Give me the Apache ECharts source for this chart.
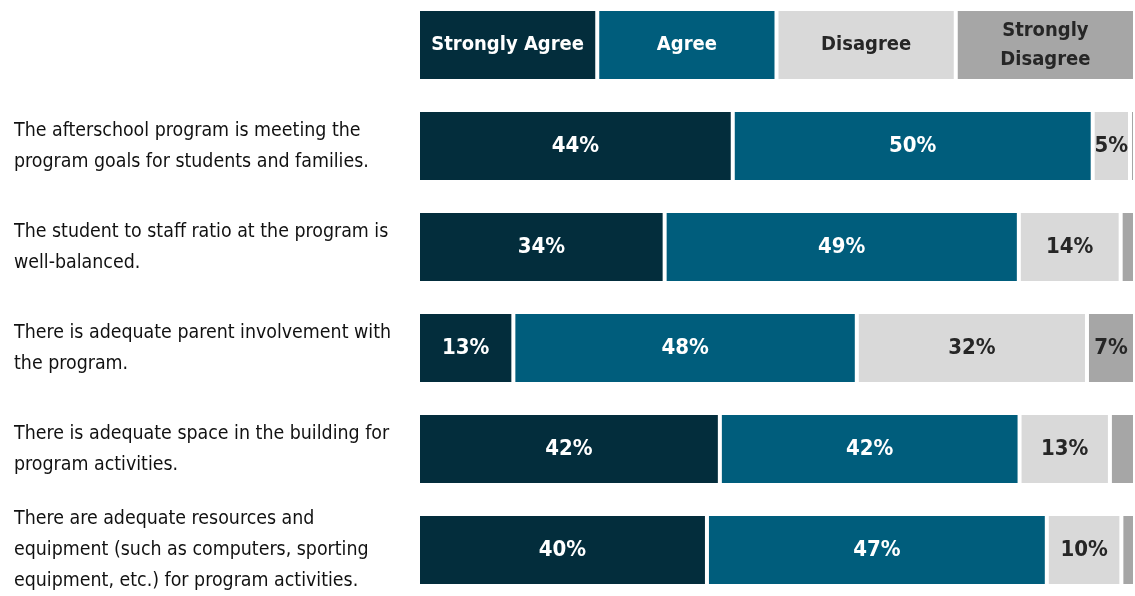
<!DOCTYPE html>
<html>
<head>
<meta charset="utf-8">
<script src="https://cdn.jsdelivr.net/npm/echarts@6/dist/echarts.min.js"></script>
<style>
html,body{margin:0;padding:0;background:#fff;}
#chart{width:1135px;height:596px;}
</style>
</head>
<body>
<div id="chart"></div>
<script>
const questions = [
  'The afterschool program is meeting the\nprogram goals for students and families.',
  'The student to staff ratio at the program is\nwell-balanced.',
  'There is adequate parent involvement with\nthe program.',
  'There is adequate space in the building for\nprogram activities.',
  'There are adequate resources and\nequipment (such as computers, sporting\nequipment, etc.) for program activities.'
];
const seriesNames = ['Strongly Agree', 'Agree', 'Disagree', 'Strongly Disagree'];
const headerLabels = ['Strongly Agree', 'Agree', 'Disagree', 'Strongly\nDisagree'];
const headerValues = [25, 25, 25, 25];
const stronglyAgree = [43.9, 34.4, 13.3, 42.1, 40.3];
const agree = [50.2, 49.4, 47.9, 41.8, 47.4];
const disagree = [5.2, 14.2, 32.1, 12.6, 10.4];
const stronglyDisagree = [0.7, 2.0, 6.7, 3.5, 1.9];

const colors = ['#032d3c', '#005d7c', '#d9d9d9', '#a6a6a6'];
const textColors = ['#ffffff', '#ffffff', '#262626', '#262626'];
const FONT = '"DejaVu Sans Condensed", "Liberation Sans Narrow", sans-serif';

const categories = [''].concat(questions);
const values = [stronglyAgree, agree, disagree, stronglyDisagree];

const series = seriesNames.map((name, i) => ({
  name: name,
  type: 'bar',
  stack: 'total',
  barWidth: 72,
  data: [{ value: headerValues[i], label: { fontSize: 20, lineHeight: 29 } }].concat(values[i]),
  itemStyle: { color: colors[i], borderColor: '#ffffff', borderWidth: 2 },
  label: {
    show: true,
    position: 'inside',
    color: textColors[i],
    fontFamily: FONT,
    fontWeight: 'bold',
    fontSize: 22,
    lineHeight: 28,
    formatter: p => {
      if (p.dataIndex === 0) return headerLabels[i];
      return p.value >= 4.5 ? Math.round(p.value) + '%' : '';
    }
  }
}));

const chart = echarts.init(document.getElementById('chart'));
chart.setOption({
  animation: false,
  grid: { left: 418, right: 0, top: -5.5, height: 606, containLabel: false, outerBoundsMode: 'none' },
  xAxis: { type: 'value', min: 0, max: 100, show: false },
  yAxis: {
    type: 'category',
    inverse: true,
    data: categories,
    axisLine: { show: false },
    axisTick: { show: false },
    axisLabel: {
      align: 'left',
      margin: 404,
      color: '#111111',
      fontFamily: FONT,
      fontSize: 19.4,
      lineHeight: 31,
      padding: [13, 0, 0, 0]
    }
  },
  series: series
});
</script>
</body>
</html>
